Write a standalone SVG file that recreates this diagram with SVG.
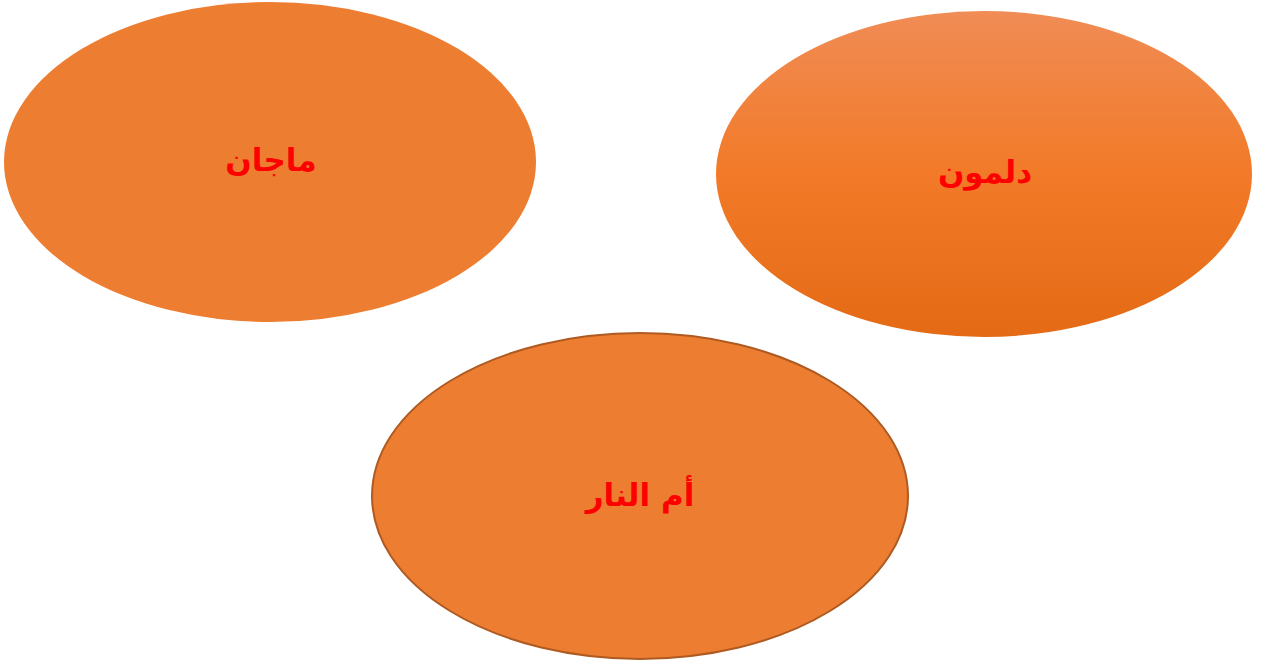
<svg xmlns="http://www.w3.org/2000/svg" width="1270" height="664" viewBox="0 0 1270 664">
<defs>
<linearGradient id="g1" x1="0" y1="0" x2="0" y2="1">
<stop offset="0" stop-color="#F08C55"/>
<stop offset="0.5" stop-color="#F27A28"/>
<stop offset="1" stop-color="#E46A15"/>
</linearGradient>
</defs>
<style>
.lbl{font-family:"DejaVu Sans","Noto Sans",sans-serif;font-weight:bold;font-size:31px;fill:#FF0000;text-anchor:middle;dominant-baseline:central}
</style>
<rect width="1270" height="664" fill="#FFFFFF"/>
<g id="node-majan">
<ellipse cx="270" cy="162" rx="266" ry="160" fill="#ED7D31"/>
<text class="lbl" x="271" y="160">ماجان</text>
</g>
<g id="node-dilmun">
<ellipse cx="984" cy="174" rx="268" ry="163" fill="url(#g1)"/>
<text class="lbl" x="985" y="172">دلمون</text>
</g>
<g id="node-umm-an-nar">
<ellipse cx="640" cy="496" rx="268" ry="163" fill="#ED7D31" stroke="#AE5A21" stroke-width="2"/>
<text class="lbl" x="640" y="495">أم النار</text>
</g>
<g id="connectors"/>
</svg>
